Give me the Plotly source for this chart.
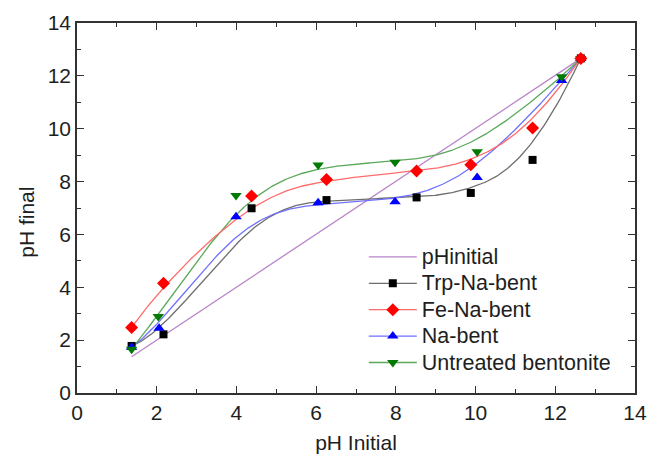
import numpy as np
import plotly.graph_objects as go

# ---- data ----
x_init = [1.37, 12.64]
y_init = [1.37, 12.66]

x_trp = [1.37, 2.17, 4.38, 6.26, 8.52, 9.88, 11.43, 12.64]
y_trp = [1.78, 2.22, 6.99, 7.30, 7.40, 7.57, 8.82, 12.66]

x_fe = [1.37, 2.17, 4.38, 6.26, 8.52, 9.88, 11.43, 12.64]
y_fe = [2.48, 4.15, 7.45, 8.08, 8.40, 8.64, 10.03, 12.66]

x_na = [1.37, 2.06, 3.99, 6.05, 7.98, 10.04, 12.16, 12.64]
y_na = [1.73, 2.45, 6.67, 7.20, 7.24, 8.15, 11.82, 12.66]

x_un = [1.37, 2.04, 3.99, 6.05, 7.98, 10.04, 12.16, 12.64]
y_un = [1.66, 2.89, 7.47, 8.63, 8.73, 9.13, 11.97, 12.66]

names = ["pHinitial", "Trp-Na-bent", "Fe-Na-bent", "Na-bent", "Untreated bentonite"]
ticks = [0, 2, 4, 6, 8, 10, 12, 14]
x_title = "pH Initial"
y_title = "pH final"


def bspline(xs, ys, degree=3, n=300):
    """Clamped uniform B-spline using data points as control points."""
    P = np.column_stack([xs, ys]).astype(float)
    m = len(P)
    k = min(degree, m - 1)
    inner = np.linspace(0, 1, m - k + 1)
    knots = np.concatenate([[0] * k, inner, [1] * k])
    ts = np.linspace(0, 1, n)
    out = []
    for t in ts:
        if t >= 1:
            out.append(P[-1])
            continue
        s = np.searchsorted(knots, t, side="right") - 1
        d = [P[j + s - k].copy() for j in range(k + 1)]
        for r in range(1, k + 1):
            for j in range(k, r - 1, -1):
                i = j + s - k
                a = (t - knots[i]) / (knots[i + k - r + 1] - knots[i])
                d[j] = (1 - a) * d[j - 1] + a * d[j]
        out.append(d[k])
    out = np.array(out)
    return out[:, 0], out[:, 1]


fig = go.Figure()

PURPLE = "#b884c8"
series = [
    (x_trp, y_trp, "#000000", "#6e6e6e", "square", 8),
    (x_na, y_na, "#0000ff", "#7070ff", "triangle-up", 10),
    (x_un, y_un, "#007a00", "#5aa85a", "triangle-down", 10),
    (x_fe, y_fe, "#ff0000", "#ff6a6a", "diamond", 10),
]

# pHinitial line
fig.add_trace(go.Scatter(x=x_init, y=y_init, mode="lines",
                         line=dict(color=PURPLE, width=1.3), showlegend=False))

# smooth curves
for xs, ys, mc, lc, sym, sz in series:
    cx, cy = bspline(xs, ys)
    fig.add_trace(go.Scatter(x=cx, y=cy, mode="lines",
                             line=dict(color=lc, width=1.3), showlegend=False,
                             hoverinfo="skip"))
# markers
for xs, ys, mc, lc, sym, sz in series:
    fig.add_trace(go.Scatter(x=xs, y=ys, mode="markers",
                             marker=dict(color=mc, symbol=sym, size=sz),
                             showlegend=False))

# legend entries
leg = [
    (names[0], PURPLE, PURPLE, "circle", 0),
    (names[1], "#000000", "#6e6e6e", "square", 8),
    (names[2], "#ff0000", "#ff6a6a", "diamond", 10),
    (names[3], "#0000ff", "#7070ff", "triangle-up", 10),
    (names[4], "#007a00", "#5aa85a", "triangle-down", 10),
]
for nm, mc, lc, sym, sz in leg:
    fig.add_trace(go.Scatter(x=[None], y=[None],
                             name='<span style="font-size:21.5px">' + nm + "</span>",
                             mode="lines+markers" if sz else "lines",
                             line=dict(color=lc, width=1.3),
                             marker=dict(color=mc, symbol=sym, size=sz)))

FONT = "Liberation Sans, Arial"
TXT = "#1e1e1e"
axis_common = dict(
    range=[0, 14], tickvals=ticks, ticks="inside", ticklen=7, tickwidth=1.3,
    tickcolor="#333", showline=True, linecolor="#333", linewidth=1.5,
    mirror="ticks", showgrid=False, zeroline=False, automargin=False,
    tickfont=dict(family=FONT, size=21, color=TXT),
    minor=dict(dtick=1, ticks="inside", ticklen=4, tickwidth=1.2, tickcolor="#333"),
)

fig.update_layout(
    width=650, height=454,
    margin=dict(l=77, r=15, t=23, b=61),
    paper_bgcolor="white", plot_bgcolor="white",
    xaxis=dict(**axis_common,
               title=dict(text=x_title, standoff=18,
                          font=dict(family=FONT, size=21, color=TXT))),
    yaxis=dict(**axis_common),
    legend=dict(x=0.514, y=0.417, xanchor="left", yanchor="top",
                bgcolor="rgba(0,0,0,0)", itemwidth=48,
                font=dict(family=FONT, size=18, color=TXT)),
    showlegend=True,
)

# y-axis title (placed slightly below centre, as in the reference)
fig.add_annotation(text=y_title, textangle=-90, xref="paper", yref="paper",
                   x=-0.0896, y=0.46, xanchor="center", yanchor="middle",
                   showarrow=False, font=dict(family=FONT, size=21, color=TXT))

fig.write_html("out.html")
